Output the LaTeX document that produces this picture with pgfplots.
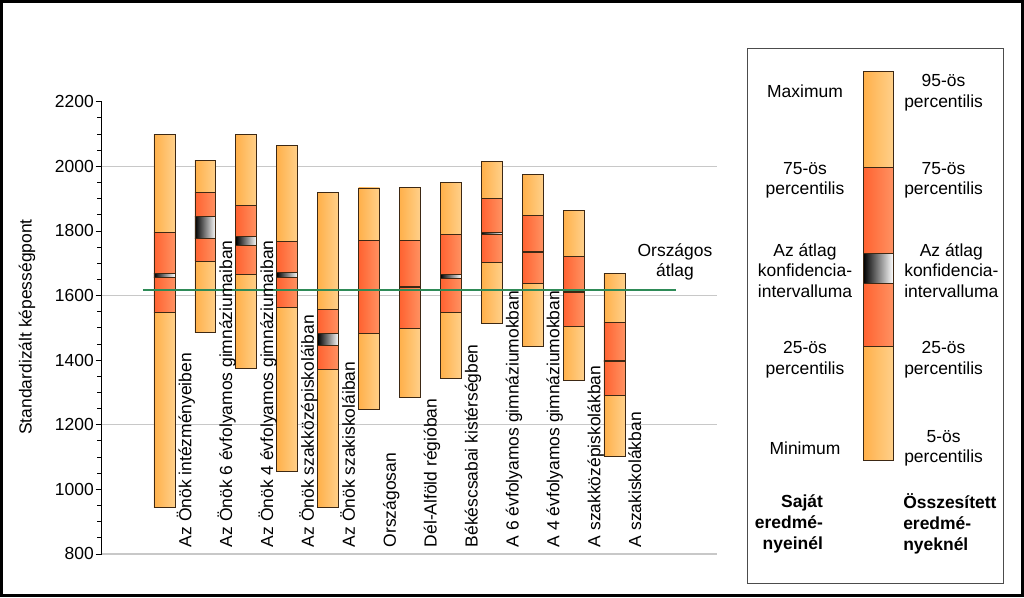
\documentclass[border=0pt]{standalone}
\usepackage{pgfplots}
\pgfplotsset{compat=1.18}
\usepackage{pgfplotstable}
\usepackage{fontspec}
\setmainfont{Liberation Sans}
\definecolor{lo1}{RGB}{255,176,74}
\definecolor{lo2}{RGB}{255,208,138}
\definecolor{hi1}{RGB}{255,98,48}
\definecolor{hi2}{RGB}{255,146,98}
\definecolor{barline}{RGB}{60,40,20}
\definecolor{natgreen}{RGB}{46,139,87}
\definecolor{gridgray}{RGB}{200,200,200}
\pgfplotstableread{
x min p25 clo chi p75 max
1 944 1547 1656 1669 1795 2099
2 1485 1707 1777 1845 1918 2017
3 1373 1665 1755 1784 1879 2099
4 1056 1562 1656 1671 1768 2065
5 944 1372 1445 1482 1557 1920
6 1248 1482 1616 1620 1770 1933
7 1284 1497 1624 1628 1770 1935
8 1342 1547 1653 1666 1789 1950
9 1515 1702 1789 1794 1900 2015
10 1443 1637 1732 1736 1849 1976
11 1336 1505 1609 1613 1722 1864
12 1101 1290 1396 1400 1516 1669
}\data
\pgfplotsset{
  lightseg/.style={draw=barline, line width=0.6pt, left color=lo1, right color=lo2},
  darkseg/.style={draw=barline, line width=0.6pt, left color=hi1, right color=hi2},
  ciseg/.style={draw=barline, line width=0.6pt, left color=black, right color=white},
}
\begin{document}
\fontsize{13.1pt}{15.5pt}\selectfont
\begin{tikzpicture}
\begin{scope}[x=0.75pt,y=0.75pt]
\useasboundingbox (0,0) rectangle (1024,597);
\end{scope}
\pgfplotsset{base/.style={scale only axis, width=461.25pt, height=339.15pt,
  at={(76.275pt,32.325pt)}, anchor=south west,
  xmin=-0.535, xmax=14.5, ymin=800, ymax=2200}}
\begin{axis}[base,
  axis x line=none, axis y line*=left,
  axis line style={-, black, line width=0.75pt},
  xtick=\empty,
  ytick={800,1000,...,2200}, minor y tick num=3,
  tick align=outside, major tick length=4.5pt, minor tick length=3.5pt,
  tick style={black, line width=0.6pt},
  yticklabel style={inner xsep=1.2pt, /pgf/number format/assume math mode=true, /pgf/number format/1000 sep={}},
  extra y ticks={800,1200,1600,2000}, extra y tick labels={},
  extra y tick style={grid=major, major tick length=0pt},
  major grid style={gridgray, line width=1pt},
  ylabel={Standardizált képességpont},
  ylabel style={at={(axis description cs:-0.1215,0.502)}, anchor=center},
]
\pgfplotsinvokeforeach{0,...,11}{
  \pgfplotstablegetelem{#1}{x}\of\data
  \pgfmathsetmacro\xl{\pgfplotsretval-0.2565}
  \pgfmathsetmacro\xr{\pgfplotsretval+0.2565}
  \pgfplotstablegetelem{#1}{min}\of\data \let\ya\pgfplotsretval
  \pgfplotstablegetelem{#1}{p25}\of\data \let\yb\pgfplotsretval
  \pgfplotstablegetelem{#1}{clo}\of\data \let\yc\pgfplotsretval
  \pgfplotstablegetelem{#1}{chi}\of\data \let\yd\pgfplotsretval
  \pgfplotstablegetelem{#1}{p75}\of\data \let\ye\pgfplotsretval
  \pgfplotstablegetelem{#1}{max}\of\data \let\yf\pgfplotsretval
  \addplot[lightseg] coordinates {(\xl,\ya) (\xr,\ya) (\xr,\yb) (\xl,\yb)} --cycle;
  \addplot[darkseg] coordinates {(\xl,\yb) (\xr,\yb) (\xr,\yc) (\xl,\yc)} --cycle;
  \addplot[ciseg] coordinates {(\xl,\yc) (\xr,\yc) (\xr,\yd) (\xl,\yd)} --cycle;
  \addplot[darkseg] coordinates {(\xl,\yd) (\xr,\yd) (\xr,\ye) (\xl,\ye)} --cycle;
  \addplot[lightseg] coordinates {(\xl,\ye) (\xr,\ye) (\xr,\yf) (\xl,\yf)} --cycle;
}
\end{axis}
\begin{axis}[base, hide axis, clip=false]
\addplot[natgreen, line width=1.6pt, mark=none] coordinates {(0.474,1618) (13.5,1618)};
\node[align=center] at (axis cs:13.48,1704) {Országos\\átlag};
\node[rotate=90, anchor=base west, inner sep=0pt] at (axis cs:1.655,820) {Az Önök intézményeiben};
\node[rotate=90, anchor=base west, inner sep=0pt] at (axis cs:2.655,820) {Az Önök 6 évfolyamos gimnáziumaiban};
\node[rotate=90, anchor=base west, inner sep=0pt] at (axis cs:3.655,820) {Az Önök 4 évfolyamos gimnáziumaiban};
\node[rotate=90, anchor=base west, inner sep=0pt] at (axis cs:4.655,820) {Az Önök szakközépiskoláiban};
\node[rotate=90, anchor=base west, inner sep=0pt] at (axis cs:5.655,820) {Az Önök szakiskoláiban};
\node[rotate=90, anchor=base west, inner sep=0pt] at (axis cs:6.655,820) {Országosan};
\node[rotate=90, anchor=base west, inner sep=0pt] at (axis cs:7.655,820) {Dél-Alföld régióban};
\node[rotate=90, anchor=base west, inner sep=0pt] at (axis cs:8.655,820) {Békéscsabai kistérségben};
\node[rotate=90, anchor=base west, inner sep=0pt] at (axis cs:9.655,820) {A 6 évfolyamos gimnáziumokban};
\node[rotate=90, anchor=base west, inner sep=0pt] at (axis cs:10.655,820) {A 4 évfolyamos gimnáziumokban};
\node[rotate=90, anchor=base west, inner sep=0pt] at (axis cs:11.655,820) {A szakközépiskolákban};
\node[rotate=90, anchor=base west, inner sep=0pt] at (axis cs:12.655,820) {A szakiskolákban};
\end{axis}
\begin{scope}[x=0.75pt,y=0.75pt]
% legend box
\draw[black!70, line width=0.8pt] (747.7,13.7) rectangle (1003.3,548.7);
\draw[barline, line width=0.6pt, left color=lo1, right color=lo2] (863.3,137) rectangle (893.3,251);
\draw[barline, line width=0.6pt, left color=hi1, right color=hi2] (863.3,251) rectangle (893.3,313.7);
\draw[barline, line width=0.6pt, left color=black, right color=white] (863.3,313.7) rectangle (893.3,343.7);
\draw[barline, line width=0.6pt, left color=hi1, right color=hi2] (863.3,343.7) rectangle (893.3,429.7);
\draw[barline, line width=0.6pt, left color=lo1, right color=lo2] (863.3,429.7) rectangle (893.3,525.3);
\node[align=center] at (805,505.3) {Maximum};
\node[align=center] at (805,416.7) {75-ös\\percentilis};
\node[align=center] at (805,326.4) {Az átlag\\konfidencia-\\intervalluma};
\node[align=center] at (805,237.3) {25-ös\\percentilis};
\node[align=center] at (805,148.7) {Minimum};
\node[align=right, anchor=east, font=\bfseries] at (829,73) {Saját\\eredmé-\\nyeinél};
\node[align=center, anchor=west, inner sep=0pt] at (904,504.5) {95-ös\\percentilis};
\node[align=center, anchor=west, inner sep=0pt] at (904,416.7) {75-ös\\percentilis};
\node[align=center, anchor=west, inner sep=0pt] at (904,326.4) {Az átlag\\konfidencia-\\intervalluma};
\node[align=center, anchor=west, inner sep=0pt] at (904,237.3) {25-ös\\percentilis};
\node[align=center, anchor=west, inner sep=0pt] at (904,148.7) {5-ös\\percentilis};
\node[align=left, anchor=west, inner sep=0pt, font=\bfseries] at (903,73) {Összesített\\eredmé-\\nyeknél};
% outer frame
\draw[black, line width=2.25pt] (1.5,1.5) rectangle (1022.5,595.5);
\end{scope}
\end{tikzpicture}
\end{document}
